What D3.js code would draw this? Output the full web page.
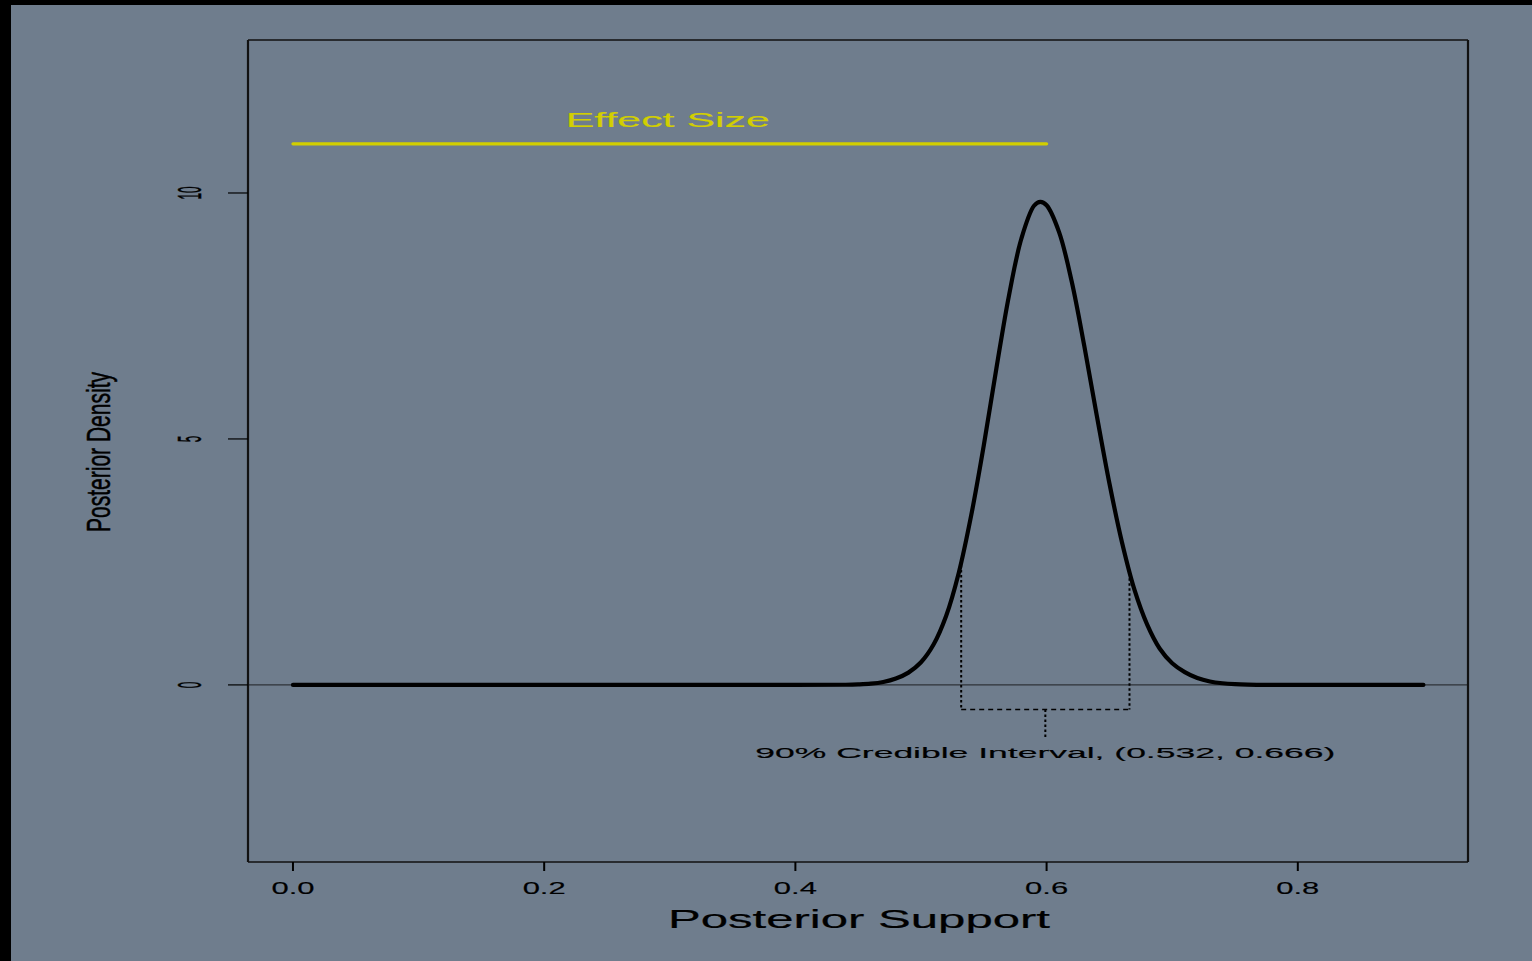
<!DOCTYPE html>
<html>
<head>
<meta charset="utf-8">
<title>Posterior Density</title>
<script src="https://cdn.jsdelivr.net/npm/d3@7"></script>
<style>
  html, body { margin: 0; padding: 0; background: #000; }
  svg { display: block; }
  text { font-family: "Liberation Sans", Arial, Helvetica, sans-serif; fill: #000; }
</style>
</head>
<body>
<div id="chart"></div>
<script>
// posterior density curve
var densX = [0, 0.40, 0.44, 0.45, 0.46, 0.47, 0.48, 0.49, 0.50, 0.51, 0.52, 0.53, 0.54, 0.55, 0.56, 0.57, 0.58, 0.59, 0.595,
             0.60, 0.61, 0.62, 0.63, 0.64, 0.65, 0.66, 0.67, 0.68, 0.69, 0.70, 0.71, 0.72, 0.73, 0.74, 0.75, 0.76, 0.77, 0.78, 0.9];
var densY = [0, 0, 0.003, 0.01, 0.025, 0.06, 0.13, 0.25, 0.46, 0.82, 1.40, 2.27, 3.45, 4.87, 6.43, 7.91, 9.08, 9.74, 9.82,
             9.75, 9.20, 8.20, 6.89, 5.47, 4.10, 2.90, 1.93, 1.23, 0.74, 0.44, 0.26, 0.14, 0.07, 0.033, 0.014, 0.005, 0.002, 0, 0];

// credible interval
var ciBounds = [0.532, 0.666];
var ciTop = [2.44, 2.17];
var ciLabel = "90% Credible Interval, (0.532, 0.666)";

// effect size bar
var effectRange = [0, 0.6];
var effectLevel = 11;

var xTicks = [0, 0.2, 0.4, 0.6, 0.8];
var xTickLabels = ["0.0", "0.2", "0.4", "0.6", "0.8"];
var yTicks = [0, 5, 10];
var yTickLabels = ["0", "5", "10"];

var W = 1532, H = 961;
var box = {left: 248, right: 1468, top: 40, bottom: 862};
var bg = "#6f7d8d";
var yellow = "#d2cf00";

var svg = d3.select("#chart").append("svg")
    .attr("width", W).attr("height", H);

// black bands top / left, then slate panel
svg.append("rect").attr("x", 0).attr("y", 0).attr("width", W).attr("height", H).attr("fill", "#000");
svg.append("rect").attr("x", 11).attr("y", 5).attr("width", W - 11).attr("height", H - 5).attr("fill", bg);

var x = d3.scaleLinear().domain([-0.0358, 0.9355]).range([box.left, box.right]);
var y = d3.scaleLinear().domain([-3.6, 13.11]).range([box.bottom, box.top]);

// zero line
svg.append("line")
    .attr("x1", box.left).attr("x2", box.right)
    .attr("y1", y(0)).attr("y2", y(0))
    .attr("stroke", "#2e3338").attr("stroke-width", 1.2);

// effect size
svg.append("line")
    .attr("x1", x(effectRange[0])).attr("x2", x(effectRange[1]))
    .attr("y1", y(effectLevel)).attr("y2", y(effectLevel))
    .attr("stroke", yellow).attr("stroke-width", 3.2)
    .attr("stroke-linecap", "round");
svg.append("text")
    .attr("x", x((effectRange[0] + effectRange[1]) / 2) - 2)
    .attr("y", y(effectLevel) - 17)
    .attr("text-anchor", "middle")
    .attr("font-size", 20)
    .attr("textLength", 204).attr("lengthAdjust", "spacingAndGlyphs")
    .style("fill", yellow).style("stroke", yellow).style("stroke-width", 0.15)
    .text("Effect Size");

// credible interval brackets
var ciBase = -0.5, ciMid = (ciBounds[0] + ciBounds[1]) / 2;
ciBounds.forEach(function(b, i) {
  svg.append("line")
      .attr("x1", x(b)).attr("x2", x(b))
      .attr("y1", y(ciTop[i])).attr("y2", y(ciBase))
      .attr("stroke", "#000").attr("stroke-width", 2)
      .attr("stroke-dasharray", "2.5,2.5");
});
svg.append("line")
    .attr("x1", x(ciBounds[0])).attr("x2", x(ciBounds[1]))
    .attr("y1", y(ciBase)).attr("y2", y(ciBase))
    .attr("stroke", "#000").attr("stroke-width", 1.3)
    .attr("stroke-dasharray", "5,4");
svg.append("line")
    .attr("x1", x(ciMid)).attr("x2", x(ciMid))
    .attr("y1", y(ciBase)).attr("y2", y(-1.1))
    .attr("stroke", "#000").attr("stroke-width", 2)
    .attr("stroke-dasharray", "2.5,2.5");
svg.append("text")
    .attr("x", x(ciMid))
    .attr("y", 758)
    .attr("text-anchor", "middle")
    .attr("font-size", 15.5)
    .attr("textLength", 580).attr("lengthAdjust", "spacingAndGlyphs")
    .style("stroke", "#000").style("stroke-width", 0.15)
    .text(ciLabel);

// density curve
var pts = densX.map(function(d, i) { return [d, densY[i]]; });
var line = d3.line()
    .x(function(d) { return x(d[0]); })
    .y(function(d) { return y(d[1]); })
    .curve(d3.curveCatmullRom);
svg.append("path")
    .datum(pts)
    .attr("d", line)
    .attr("fill", "none")
    .attr("stroke", "#000")
    .attr("stroke-width", 4.2)
    .attr("stroke-linejoin", "round")
    .attr("stroke-linecap", "round");

// box
svg.append("line").attr("x1", box.left).attr("x2", box.right).attr("y1", box.top).attr("y2", box.top)
    .attr("stroke", "#111").attr("stroke-width", 1.6);
svg.append("line").attr("x1", box.left).attr("x2", box.right).attr("y1", box.bottom).attr("y2", box.bottom)
    .attr("stroke", "#111").attr("stroke-width", 1.6);
svg.append("line").attr("x1", box.left).attr("x2", box.left).attr("y1", box.top).attr("y2", box.bottom)
    .attr("stroke", "#111").attr("stroke-width", 2.2);
svg.append("line").attr("x1", box.right).attr("x2", box.right).attr("y1", box.top).attr("y2", box.bottom)
    .attr("stroke", "#111").attr("stroke-width", 2.2);

// x axis ticks and labels
var xAxis = svg.append("g");
xAxis.selectAll("line").data(xTicks).enter().append("line")
    .attr("x1", function(d) { return x(d); }).attr("x2", function(d) { return x(d); })
    .attr("y1", box.bottom).attr("y2", box.bottom + 9)
    .attr("stroke", "#000").attr("stroke-width", 2);
xAxis.selectAll("text").data(xTicks).enter().append("text")
    .attr("x", function(d) { return x(d); })
    .attr("y", 894)
    .attr("text-anchor", "middle")
    .attr("font-size", 16)
    .attr("textLength", 43).attr("lengthAdjust", "spacingAndGlyphs")
    .style("stroke", "#000").style("stroke-width", 0.15)
    .text(function(d, i) { return xTickLabels[i]; });

// y axis ticks and labels (rotated, condensed)
var yAxis = svg.append("g");
yAxis.selectAll("line").data(yTicks).enter().append("line")
    .attr("x1", box.left - 20).attr("x2", box.left)
    .attr("y1", function(d) { return y(d); }).attr("y2", function(d) { return y(d); })
    .attr("stroke", "#000").attr("stroke-width", 1.2);
yAxis.selectAll("text").data(yTicks).enter().append("text")
    .attr("transform", function(d) { return "translate(201," + y(d) + ") rotate(-90)"; })
    .attr("text-anchor", "middle")
    .attr("font-size", 33)
    .attr("textLength", function(d, i) { return yTickLabels[i].length * 6.5; })
    .attr("lengthAdjust", "spacingAndGlyphs")
    .style("stroke", "#000").style("stroke-width", 0.5)
    .text(function(d, i) { return yTickLabels[i]; });

// axis titles
svg.append("text")
    .attr("x", 859).attr("y", 928)
    .attr("text-anchor", "middle")
    .attr("font-size", 25)
    .attr("textLength", 382).attr("lengthAdjust", "spacingAndGlyphs")
    .style("stroke", "#000").style("stroke-width", 0.2)
    .text("Posterior Support");
svg.append("text")
    .attr("transform", "translate(110,452) rotate(-90)")
    .attr("text-anchor", "middle")
    .attr("font-size", 34)
    .attr("textLength", 160).attr("lengthAdjust", "spacingAndGlyphs")
    .style("stroke", "#000").style("stroke-width", 0.5)
    .text("Posterior Density");
</script>
</body>
</html>
